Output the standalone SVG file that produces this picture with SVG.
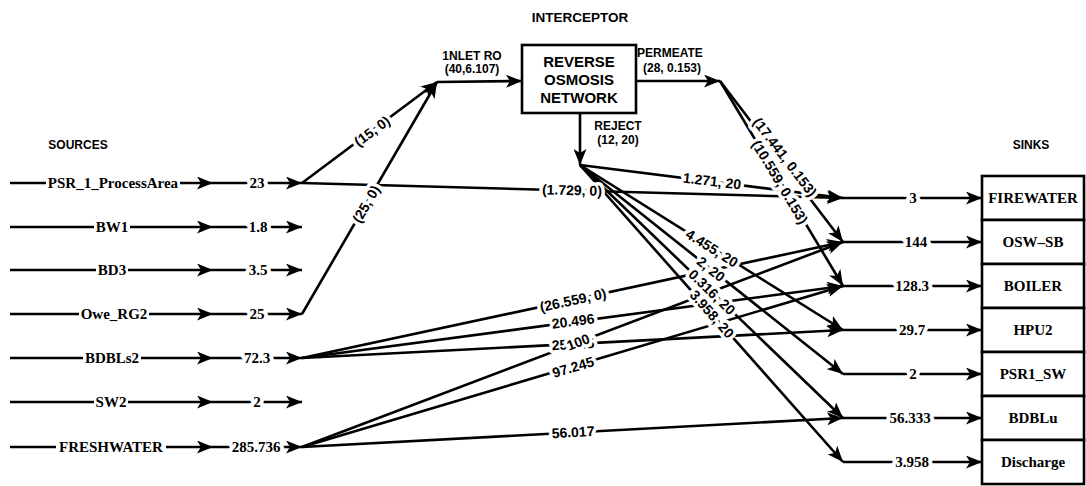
<svg xmlns="http://www.w3.org/2000/svg" width="1086" height="486" viewBox="0 0 1086 486">
<defs>
<marker id="ah" markerUnits="userSpaceOnUse" markerWidth="17" markerHeight="13" refX="16" refY="6.5" orient="auto" viewBox="0 0 17 13">
<path d="M0,0 L16,6.5 L0,13 L4,6.5 Z" fill="#000"/>
</marker>
</defs>
<style>
.ln{stroke:#000;stroke-width:2.6;fill:none;marker-end:url(#ah)}
.src{font-family:"Liberation Serif","Times New Roman",serif;font-weight:bold;font-size:15px;text-anchor:middle;fill:#000;paint-order:stroke;stroke:#fff;stroke-width:8;stroke-linejoin:round}
.nm{font-family:"Liberation Serif","Times New Roman",serif;font-weight:bold;font-size:15px;text-anchor:middle;fill:#000}
.bg{fill:#fff}
.lbl{font-family:"Liberation Sans",Arial,sans-serif;font-weight:bold;font-size:14px;text-anchor:middle;fill:#000;paint-order:stroke;stroke:#fff;stroke-width:7;stroke-linejoin:round}
.hdr{font-family:"Liberation Sans",Arial,sans-serif;font-weight:bold;text-anchor:middle;fill:#000}
.box{fill:#fff;stroke:#000;stroke-width:2.6}
</style>
<rect width="1086" height="486" fill="#fff"/>

<g id="headers">
<text class="hdr" x="580" y="22" font-size="13.5">INTERCEPTOR</text>
<text class="hdr" x="78" y="149" font-size="12">SOURCES</text>
<text class="hdr" x="1031" y="149" font-size="12">SINKS</text>
</g>

<g id="connectors">
<path class="ln" d="M10,183 L213,183"/><path class="ln" d="M213,183 L302,183"/>
<path class="ln" d="M10,227 L213,227"/><path class="ln" d="M213,227 L302,227"/>
<path class="ln" d="M10,270 L213,270"/><path class="ln" d="M213,270 L302,270"/>
<path class="ln" d="M10,314 L213,314"/><path class="ln" d="M213,314 L302,314"/>
<path class="ln" d="M10,358 L213,358"/><path class="ln" d="M213,358 L302,358"/>
<path class="ln" d="M10,402 L213,402"/><path class="ln" d="M213,402 L302,402"/>
<path class="ln" d="M10,447 L213,447"/><path class="ln" d="M213,447 L302,447"/>
<path class="ln" d="M302,183 L437,82"/>
<path class="ln" d="M302,314 L437,82"/>
<path class="ln" d="M437,82 L522,81"/>
<path class="ln" d="M636,81 L720,81"/>
<path class="ln" d="M580,113 L580,165"/>
<path class="ln" d="M302,183 L843,198"/>
<path class="ln" d="M580,165 L843,198"/>
<path class="ln" d="M580,165 L843,330"/>
<path class="ln" d="M580,165 L843,374"/>
<path class="ln" d="M580,165 L843,418"/>
<path class="ln" d="M580,165 L843,462"/>
<path class="ln" d="M720,81 L843,242"/>
<path class="ln" d="M720,81 L843,286"/>
<path class="ln" d="M302,358 L843,242"/>
<path class="ln" d="M302,358 L843,286"/>
<path class="ln" d="M302,358 L843,330"/>
<path class="ln" d="M302,447 L843,242"/>
<path class="ln" d="M302,447 L843,286"/>
<path class="ln" d="M302,447 L843,418"/>
<path class="ln" d="M843,198 L982,198"/>
<path class="ln" d="M843,242 L982,242"/>
<path class="ln" d="M843,286 L982,286"/>
<path class="ln" d="M843,330 L982,330"/>
<path class="ln" d="M843,374 L982,374"/>
<path class="ln" d="M843,418 L982,418"/>
<path class="ln" d="M843,462 L982,462"/>
</g>

<g id="connector-labels">
<text class="src" x="257" y="188">23</text>
<text class="src" x="258" y="232">1.8</text>
<text class="src" x="258" y="275">3.5</text>
<text class="src" x="257" y="319">25</text>
<text class="src" x="257" y="363">72.3</text>
<text class="src" x="257" y="407">2</text>
<text class="src" x="256" y="452">285.736</text>

<text class="lbl" transform="translate(372,131) rotate(-36.8)" dy="0.36em">(15, 0)</text>
<text class="lbl" transform="translate(366,204) rotate(-59.8)" dy="0.36em">(25, 0)</text>
<text class="lbl" transform="translate(572,190) rotate(1.5)" dy="0.36em">(1.729, 0)</text>
<text class="lbl" transform="translate(712,181) rotate(6.9)" dy="0.36em">1.271, 20</text>
<text class="lbl" transform="translate(712,248) rotate(32.1)" dy="0.36em">4.455, 20</text>
<text class="lbl" transform="translate(711,269) rotate(38.5)" dy="0.36em">2, 20</text>
<text class="lbl" transform="translate(712,292) rotate(43.9)" dy="0.36em">0.316, 20</text>
<text class="lbl" transform="translate(712,314) rotate(48.5)" dy="0.36em">3.958, 20</text>
<text class="lbl" transform="translate(785,157) rotate(52.6)" dy="0.36em">(17.441, 0.153)</text>
<text class="lbl" transform="translate(780,182) rotate(59)" dy="0.36em">(10.559, 0.153)</text>
<text class="lbl" transform="translate(573,300) rotate(-12.1)" dy="0.36em">(26.559, 0)</text>
<text class="lbl" transform="translate(573,321) rotate(-7.6)" dy="0.36em">20.496</text>
<text class="lbl" transform="translate(573,344) rotate(-3)" dy="0.36em">25.245</text>
<text class="lbl" transform="translate(578,342) rotate(-20.8)" dy="0.36em">100</text>
<text class="lbl" transform="translate(573,367) rotate(-16.6)" dy="0.36em">97.245</text>
<text class="lbl" transform="translate(573,432) rotate(-3.1)" dy="0.36em">56.017</text>

<text class="src" x="913" y="203">3</text>
<text class="src" x="916" y="247">144</text>
<text class="src" x="912" y="291">128.3</text>
<text class="src" x="912" y="335">29.7</text>
<text class="src" x="913" y="379">2</text>
<text class="src" x="910" y="423">56.333</text>
<text class="src" x="912" y="467">3.958</text>

<text class="hdr" x="472" y="60" font-size="12">1NLET RO</text>
<text class="hdr" x="472" y="73" font-size="12">(40,6.107)</text>
<text class="hdr" x="670" y="57" font-size="12">PERMEATE</text>
<text class="hdr" x="672" y="72" font-size="12">(28, 0.153)</text>
<text class="hdr" x="618" y="130" font-size="12">REJECT</text>
<text class="hdr" x="618" y="144" font-size="12">(12, 20)</text>
</g>

<g id="src-PSR_1_ProcessArea"><rect class="bg" x="46" y="175" width="134" height="17"/><text class="nm" x="113" y="188">PSR_1_ProcessArea</text></g>
<g id="src-BW1"><rect class="bg" x="94" y="219" width="36" height="17"/><text class="nm" x="112" y="232">BW1</text></g>
<g id="src-BD3"><rect class="bg" x="96" y="262" width="32" height="17"/><text class="nm" x="112" y="275">BD3</text></g>
<g id="src-Owe_RG2"><rect class="bg" x="79" y="306" width="70" height="17"/><text class="nm" x="114" y="319">Owe_RG2</text></g>
<g id="src-BDBLs2"><rect class="bg" x="83" y="350" width="58" height="17"/><text class="nm" x="112" y="363">BDBLs2</text></g>
<g id="src-SW2"><rect class="bg" x="94" y="394" width="34" height="17"/><text class="nm" x="111" y="407">SW2</text></g>
<g id="src-FRESHWATER"><rect class="bg" x="56" y="439" width="110" height="17"/><text class="nm" x="111" y="452">FRESHWATER</text></g>

<g id="ro-network">
<rect class="box" x="522" y="45" width="114" height="68"/>
<text class="hdr" x="579" y="67" font-size="15">REVERSE</text>
<text class="hdr" x="579" y="85" font-size="15">OSMOSIS</text>
<text class="hdr" x="579" y="103" font-size="15">NETWORK</text>
</g>

<g id="sink-FIREWATER"><rect class="box" x="982" y="176" width="102" height="44"/><text class="nm" x="1033" y="203">FIREWATER</text></g>
<g id="sink-OSW-SB"><rect class="box" x="982" y="220" width="102" height="44"/><text class="nm" x="1033" y="247">OSW–SB</text></g>
<g id="sink-BOILER"><rect class="box" x="982" y="264" width="102" height="44"/><text class="nm" x="1033" y="291">BOILER</text></g>
<g id="sink-HPU2"><rect class="box" x="982" y="308" width="102" height="44"/><text class="nm" x="1033" y="335">HPU2</text></g>
<g id="sink-PSR1_SW"><rect class="box" x="982" y="352" width="102" height="44"/><text class="nm" x="1033" y="379">PSR1_SW</text></g>
<g id="sink-BDBLu"><rect class="box" x="982" y="396" width="102" height="44"/><text class="nm" x="1033" y="423">BDBLu</text></g>
<g id="sink-Discharge"><rect class="box" x="982" y="440" width="102" height="44"/><text class="nm" x="1033" y="467">Discharge</text></g>
</svg>
